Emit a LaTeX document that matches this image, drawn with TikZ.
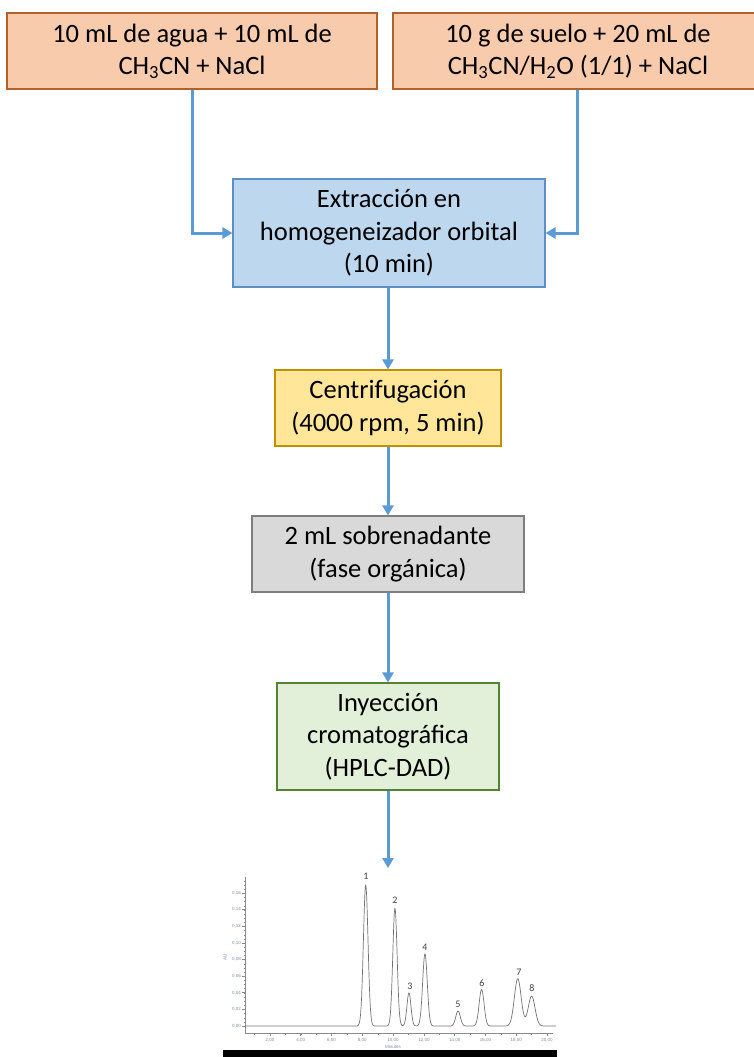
\documentclass[tikz,border=0pt]{standalone}
\usepackage{fontspec}
\setmainfont{Carlito}
\newfontfamily\chromfont{Liberation Sans}
\usetikzlibrary{arrows.meta}
\definecolor{orfill}{HTML}{F8CBAD}
\definecolor{ordraw}{HTML}{B0612C}
\definecolor{blfill}{HTML}{BDD7EE}
\definecolor{bldraw}{HTML}{5E8FC4}
\definecolor{yefill}{HTML}{FFE699}
\definecolor{yedraw}{HTML}{BF9000}
\definecolor{grfill}{HTML}{D9D9D9}
\definecolor{grdraw}{HTML}{7F7F7F}
\definecolor{gnfill}{HTML}{E2F0D9}
\definecolor{gndraw}{HTML}{548235}
\definecolor{arrowc}{HTML}{5B9BD5}
\definecolor{axisc}{HTML}{8A8A8A}
\definecolor{ticklab}{HTML}{7A8CA8}
\begin{document}
\begin{tikzpicture}[x=1pt,y=-1pt,
  box/.style={draw, line width=1.1pt, align=center, inner sep=0pt,
    font=\fontsize{26.5}{32.5}\selectfont, text=black},
  flow/.style={draw=arrowc, line width=3pt, -{Triangle[length=10pt,width=11pt]}},
  axisline/.style={draw=axisc, line width=0.6pt},
  ylab/.style={anchor=east, inner sep=0pt, text=ticklab, font=\chromfont\fontsize{4.5}{5}\selectfont},
  xlab/.style={anchor=north, inner sep=0pt, text=ticklab, font=\chromfont\fontsize{4.5}{5}\selectfont},
  peaklab/.style={inner sep=0pt, text=black!75, font=\fontsize{10}{11}\selectfont}]
\useasboundingbox (0,0) rectangle (753,1057);

% boxes
\node[box, fill=orfill, draw=ordraw, minimum width=370pt, minimum height=76pt] (b1) at (192,51)
  {10 mL de agua + 10 mL de\\CH\textsubscript{3}CN + NaCl};
\node[box, fill=orfill, draw=ordraw, minimum width=370pt, minimum height=76pt] (b2) at (578,51)
  {10 g de suelo + 20 mL de\\CH\textsubscript{3}CN/H\textsubscript{2}O (1/1) + NaCl};
\node[box, fill=blfill, draw=bldraw, minimum width=312pt, minimum height=108pt] (b3) at (389,233)
  {Extracción en\\homogeneizador orbital\\(10 min)};
\node[box, fill=yefill, draw=yedraw, minimum width=226pt, minimum height=76pt] (b4) at (388,408)
  {Centrifugación\\(4000 rpm, 5 min)};
\node[box, fill=grfill, draw=grdraw, minimum width=272pt, minimum height=76pt] (b5) at (388,554)
  {2 mL sobrenadante\\(fase orgánica)};
\node[box, fill=gnfill, draw=gndraw, minimum width=222pt, minimum height=107pt] (b6) at (388,736.5)
  {Inyección\\cromatográfica\\(HPLC-DAD)};
\coordinate (chrom) at (388,868);

% connectors
\draw[flow] (b1.south) |- (b3.west);
\draw[flow] (b2.south -| 577,0) |- (b3.east);
\draw[flow] (b3.south -| b4.north) -- (b4.north);
\draw[flow] (b4.south) -- (b5.north);
\draw[flow] (b5.south) -- (b6.north);
\draw[flow] (b6.south) -- (chrom);

% chromatogram
\draw[axisline] (245,877) -- (245,1033) -- (553,1033);
\foreach \a/\l in {0/{0,00}, 0.02/{0,02}, 0.04/{0,04}, 0.06/{0,06}, 0.08/{0,08}, 0.10/{0,10}, 0.12/{0,12}, 0.14/{0,14}, 0.16/{0,16}}{
  \draw[axisline] (242,{1026-831*\a}) -- (245,{1026-831*\a});
  \node[ylab] at (241,{1026-831*\a}) {\l};
}
\foreach \a in {0.005,0.01,...,0.175}{
  \draw[axisline, line width=0.4pt] (243.5,{1026-831*\a}) -- (245,{1026-831*\a});
}
\foreach \t/\l in {2/{2,00}, 4/{4,00}, 6/{6,00}, 8/{8,00}, 10/{10,00}, 12/{12,00}, 14/{14,00}, 16/{16,00}, 18/{18,00}, 20/{20,00}}{
  \draw[axisline] ({239.2+15.39*\t},1033) -- ({239.2+15.39*\t},1036);
  \node[xlab] at ({239.2+15.39*\t},1038) {\l};
}
\foreach \t in {1,...,20}{
  \draw[axisline, line width=0.4pt] ({239.2+15.39*\t},1033) -- ({239.2+15.39*\t},1034.5);
}
\node[ylab, anchor=center, rotate=90] (au) at (225,957) {AU};
\node[xlab, anchor=center] (minutes) at (393,1047) {Minutes};

\draw[draw=black!55, line width=0.7pt, line join=round] plot[domain=0.4:20.6, samples=600]
  ({239.2+15.39*\x},{1026-831*(
     0.170*exp(0-(\x-8.22)*(\x-8.22)/0.045)
    +0.142*exp(0-(\x-10.12)*(\x-10.12)/0.0392)
    +0.040*exp(0-(\x-11.03)*(\x-11.03)/0.0338)
    +0.087*exp(0-(\x-12.07)*(\x-12.07)/0.045)
    +0.018*exp(0-(\x-14.22)*(\x-14.22)/0.045)
    +0.044*exp(0-(\x-15.75)*(\x-15.75)/0.0512)
    +0.057*exp(0-(\x-18.10)*(\x-18.10)/0.0968)
    +0.036*exp(0-(\x-19.00)*(\x-19.00)/0.0968))});

\node[peaklab] (p1) at (366,876) {1};
\node[peaklab] (p2) at (395,900) {2};
\node[peaklab] (p3) at (410,986) {3};
\node[peaklab] (p4) at (425,947) {4};
\node[peaklab] (p5) at (458,1004) {5};
\node[peaklab] (p6) at (482,983) {6};
\node[peaklab] (p7) at (519,972) {7};
\node[peaklab] (p8) at (532,988) {8};

\fill[black] (223,1050) rectangle (557,1057);
\end{tikzpicture}
\end{document}
